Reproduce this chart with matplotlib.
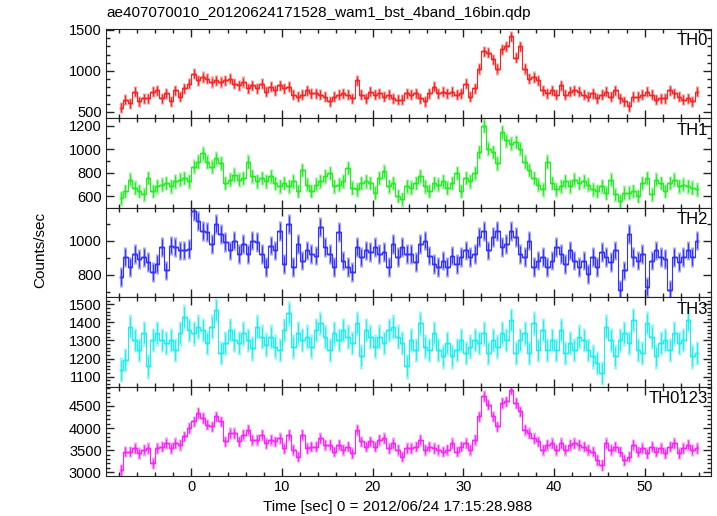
import numpy as np
import matplotlib.pyplot as plt
from matplotlib.ticker import MultipleLocator

plt.rcParams['font.family'] = ['Liberation Sans', 'DejaVu Sans']

# 0.5 s bins, centres from -7.75 to 55.75 s
t_first = -7.75
bin_width = 0.5

th0 = [548, 647, 607, 746, 627, 667, 667, 746, 766, 667, 726, 627, 766, 687, 786, 845,
       964, 885, 925, 905, 865, 885, 865, 885, 905, 845, 826, 865, 786, 826, 786, 845,
       746, 806, 766, 826, 786, 806, 707, 687, 707, 766, 726, 726, 707, 687, 627, 687,
       707, 726, 707, 667, 885, 707, 667, 746, 707, 726, 687, 707, 667, 647, 647, 726,
       707, 726, 667, 627, 726, 806, 726, 746, 726, 746, 707, 726, 845, 687, 786, 1024,
       1242, 1222, 1143, 1024, 1262, 1302, 1421, 1163, 1302, 1024, 905, 925, 885, 766, 726, 766,
       707, 826, 707, 746, 766, 746, 707, 687, 726, 667, 707, 746, 687, 766, 667, 627,
       568, 687, 687, 707, 746, 707, 647, 667, 667, 766, 726, 687, 647, 667, 627, 746]

th1 = [585, 646, 743, 674, 646, 618, 757, 646, 687, 701, 715, 687, 729, 743, 757, 729,
       854, 895, 965, 895, 854, 923, 882, 715, 743, 784, 743, 757, 895, 771, 729, 757,
       729, 771, 715, 687, 715, 687, 729, 646, 826, 701, 646, 701, 729, 771, 798, 687,
       701, 729, 840, 674, 660, 715, 729, 715, 632, 757, 812, 687, 715, 604, 577, 687,
       674, 715, 771, 687, 646, 715, 701, 729, 674, 715, 798, 646, 757, 729, 798, 978,
       1200, 1006, 978, 882, 1145, 1075, 1048, 1062, 1006, 895, 826, 757, 701, 660, 895, 715,
       660, 687, 729, 687, 743, 715, 729, 701, 660, 646, 687, 632, 743, 618, 563, 632,
       632, 646, 604, 715, 757, 618, 743, 715, 646, 715, 743, 687, 701, 687, 674, 660]

th2 = [786, 903, 845, 922, 893, 903, 874, 815, 864, 961, 825, 971, 961, 942, 942, 951,
       1175, 1116, 1058, 1048, 981, 1097, 1039, 990, 942, 1000, 922, 981, 922, 1000, 990, 922,
       845, 971, 942, 1058, 864, 1097, 845, 981, 883, 942, 922, 912, 1078, 961, 922, 845,
       1048, 883, 845, 815, 961, 903, 942, 932, 961, 922, 932, 845, 981, 903, 961, 922,
       922, 874, 981, 1000, 912, 864, 845, 883, 845, 912, 864, 903, 942, 903, 922, 1019,
       1058, 942, 1019, 1058, 961, 981, 1058, 1019, 922, 903, 1000, 845, 883, 903, 845, 883,
       961, 922, 864, 942, 883, 845, 883, 806, 903, 845, 932, 903, 874, 942, 709, 825,
       1039, 903, 883, 922, 728, 883, 942, 903, 893, 709, 903, 874, 903, 942, 903, 1000]

th3 = [1138, 1193, 1376, 1303, 1248, 1340, 1157, 1303, 1340, 1303, 1285, 1303, 1248, 1340, 1431, 1358,
       1340, 1376, 1358, 1285, 1376, 1468, 1230, 1285, 1358, 1303, 1285, 1340, 1303, 1257, 1376, 1321,
       1276, 1321, 1266, 1248, 1358, 1449, 1266, 1340, 1303, 1321, 1266, 1358, 1394, 1321, 1248, 1340,
       1303, 1358, 1321, 1285, 1394, 1212, 1358, 1321, 1266, 1321, 1285, 1358, 1376, 1321, 1285, 1157,
       1303, 1248, 1394, 1266, 1248, 1340, 1248, 1212, 1285, 1212, 1248, 1303, 1230, 1266, 1303, 1285,
       1340, 1230, 1303, 1266, 1340, 1303, 1413, 1230, 1303, 1340, 1230, 1394, 1248, 1358, 1248, 1303,
       1248, 1358, 1230, 1285, 1248, 1321, 1303, 1248, 1212, 1175, 1120, 1376, 1303, 1212, 1303, 1340,
       1285, 1413, 1248, 1230, 1394, 1321, 1212, 1285, 1303, 1248, 1340, 1285, 1303, 1413, 1212, 1230]

th0123 = [3053, 3470, 3470, 3545, 3432, 3508, 3545, 3205, 3545, 3583, 3659, 3545, 3659, 3621, 3811, 4000,
          4152, 4341, 4227, 4076, 4038, 4265, 4152, 3697, 3886, 3886, 3697, 3849, 3962, 3735, 3735, 3849,
          3659, 3735, 3697, 3773, 3545, 3849, 3508, 3356, 3849, 3545, 3583, 3583, 3773, 3621, 3621, 3470,
          3621, 3508, 3583, 3432, 3962, 3697, 3583, 3697, 3583, 3735, 3773, 3545, 3659, 3508, 3356, 3545,
          3545, 3583, 3735, 3508, 3583, 3545, 3508, 3470, 3508, 3659, 3470, 3583, 3659, 3508, 3735, 4265,
          4720, 4530, 4265, 4038, 4568, 4606, 4871, 4568, 4379, 3962, 3886, 3773, 3697, 3508, 3621, 3659,
          3508, 3659, 3508, 3621, 3659, 3621, 3583, 3508, 3470, 3280, 3167, 3659, 3508, 3583, 3470, 3280,
          3356, 3621, 3470, 3545, 3432, 3583, 3470, 3545, 3432, 3583, 3659, 3432, 3545, 3621, 3508, 3545]

# typical 1-sigma error of each band (counts/sec)
errs = [68, 62, 58, 68, 130]
names = ['TH0', 'TH1', 'TH2', 'TH3', 'TH0123']
colors = ['#ff2222', '#22ee22', '#3333ff', '#22eeee', '#ff22ff']
ylims = [(420, 1512), (504, 1262), (668, 1192), (1045, 1539), (2916, 4938)]
ymajor = [500, 200, 200, 100, 500]
yminor = [100, 100, 100, 20, 100]

series = [th0, th1, th2, th3, th0123]
t = t_first + bin_width * np.arange(len(th0))

fig = plt.figure(figsize=(7.17, 5.16), dpi=100)
axs = fig.subplots(5, 1, sharex=True)
fig.subplots_adjust(left=0.1478, right=0.9916, top=0.9438, bottom=0.0775, hspace=0)

for i, ax in enumerate(axs):
    v = np.array(series[i])
    c = colors[i]
    ax.errorbar(t, v, yerr=errs[i], xerr=bin_width / 2, fmt='none',
                ecolor=c, alpha=0.45, elinewidth=2.2)
    ax.errorbar(t, v, yerr=errs[i] * 0.8, fmt='none', ecolor=c, elinewidth=0.7)
    ax.step(t, v, where='mid', color=c, lw=0.8)
    ax.set_ylim(*ylims[i])
    ax.set_xlim(-9.4, 57.3)
    ax.yaxis.set_major_locator(MultipleLocator(ymajor[i]))
    ax.yaxis.set_minor_locator(MultipleLocator(yminor[i]))
    ax.xaxis.set_major_locator(MultipleLocator(10))
    ax.xaxis.set_minor_locator(MultipleLocator(2))
    ax.tick_params(which='both', direction='in', top=True, right=True,
                   labelsize=10.5, width=1, color='#222222')
    ax.tick_params(which='major', length=6, pad=3)
    ax.tick_params(which='minor', length=3)
    for s in ax.spines.values():
        s.set_color('#222222')
    ax.text(0.995, 0.95, names[i], transform=ax.transAxes, ha='right', va='top',
            fontsize=12)

fig.text(0.149, 0.975, 'ae407070010_20120624171528_wam1_bst_4band_16bin.qdp',
         ha='left', va='center', fontsize=11)
fig.text(0.056, 0.515, 'Counts/sec', rotation=90, ha='center', va='center', fontsize=11)
fig.text(0.555, 0.018, 'Time [sec] 0 = 2012/06/24 17:15:28.988',
         ha='center', va='center', fontsize=11)

fig.savefig('out.png', dpi=100)
